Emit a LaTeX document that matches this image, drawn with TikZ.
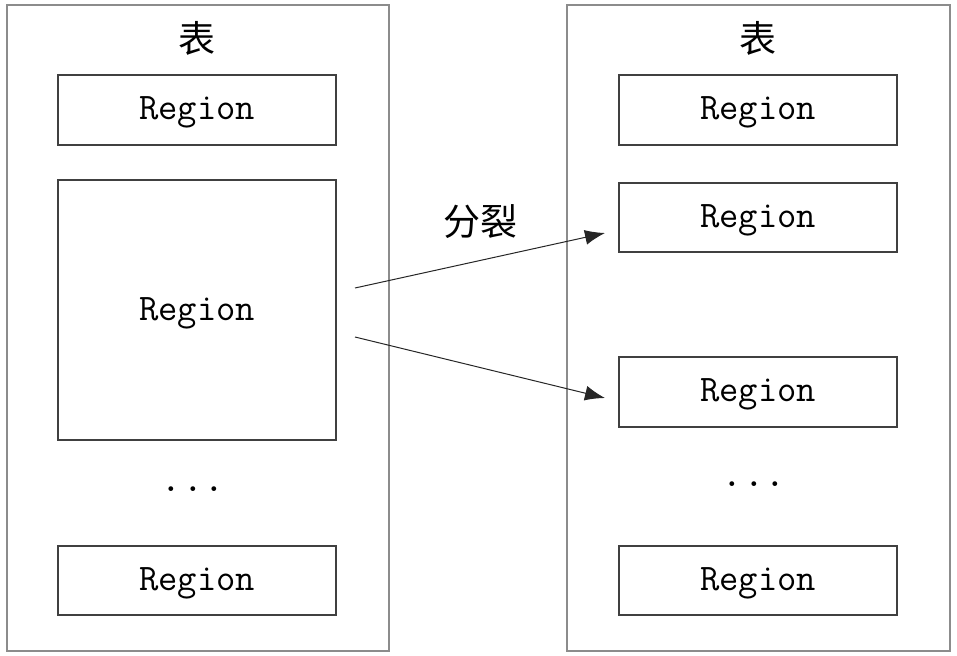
\documentclass[tikz,border=0pt]{standalone}
\usepackage{fontspec}
\newfontfamily\cjk{Noto Sans CJK SC}
\usetikzlibrary{arrows.meta}
\begin{document}
\begin{tikzpicture}[x=1pt,y=-1pt,
  outerbox/.style={draw=black!45,line width=1.3pt},
  regbox/.style={draw=black!75,line width=1.2pt},
  regtext/.style={font=\fontsize{37.5}{42}\selectfont\ttfamily},
  cjktext/.style={font=\fontsize{37}{42}\selectfont\cjk},
  dots/.style={font=\fontsize{42}{46}\selectfont\ttfamily},
  arr/.style={draw=black!85,line width=1pt,-{Latex[length=20pt,width=15pt]}}]
\useasboundingbox (0,0) rectangle (957,655);
% left table
\draw[outerbox] (7,5) rectangle (389,651);
\node[cjktext] (lt) at (197,38) {表};
\draw[regbox] (58,75) rectangle (336,145);
\node[regtext] (l1) at (197,112) {Region};
\draw[regbox] (58,180) rectangle (336,440);
\node[regtext] (l2) at (197,313) {Region};
\node[dots] (ld) at (193,489) {...};
\draw[regbox] (58,546) rectangle (336,615);
\node[regtext] (l3) at (197,583) {Region};
% right table
\draw[outerbox] (567,5) rectangle (950,651);
\node[cjktext] (rt) at (758,38) {表};
\draw[regbox] (619,75) rectangle (897,145);
\node[regtext] (r1) at (758,112) {Region};
\draw[regbox] (619,183) rectangle (897,252);
\node[regtext] (r2) at (758,220) {Region};
\draw[regbox] (619,357) rectangle (897,427);
\node[regtext] (r3) at (758,394) {Region};
\node[dots] (rd) at (754,484) {...};
\draw[regbox] (619,546) rectangle (897,615);
\node[regtext] (r4) at (758,583) {Region};
% arrows
\coordinate (a1s) at (355,288);
\coordinate (a1e) at (605,233);
\coordinate (a2s) at (355,337);
\coordinate (a2e) at (605,398);
\draw[arr] (a1s) -- (a1e);
\draw[arr] (a2s) -- (a2e);
\node[cjktext] (split) at (480,222) {分裂};
\end{tikzpicture}
\end{document}
